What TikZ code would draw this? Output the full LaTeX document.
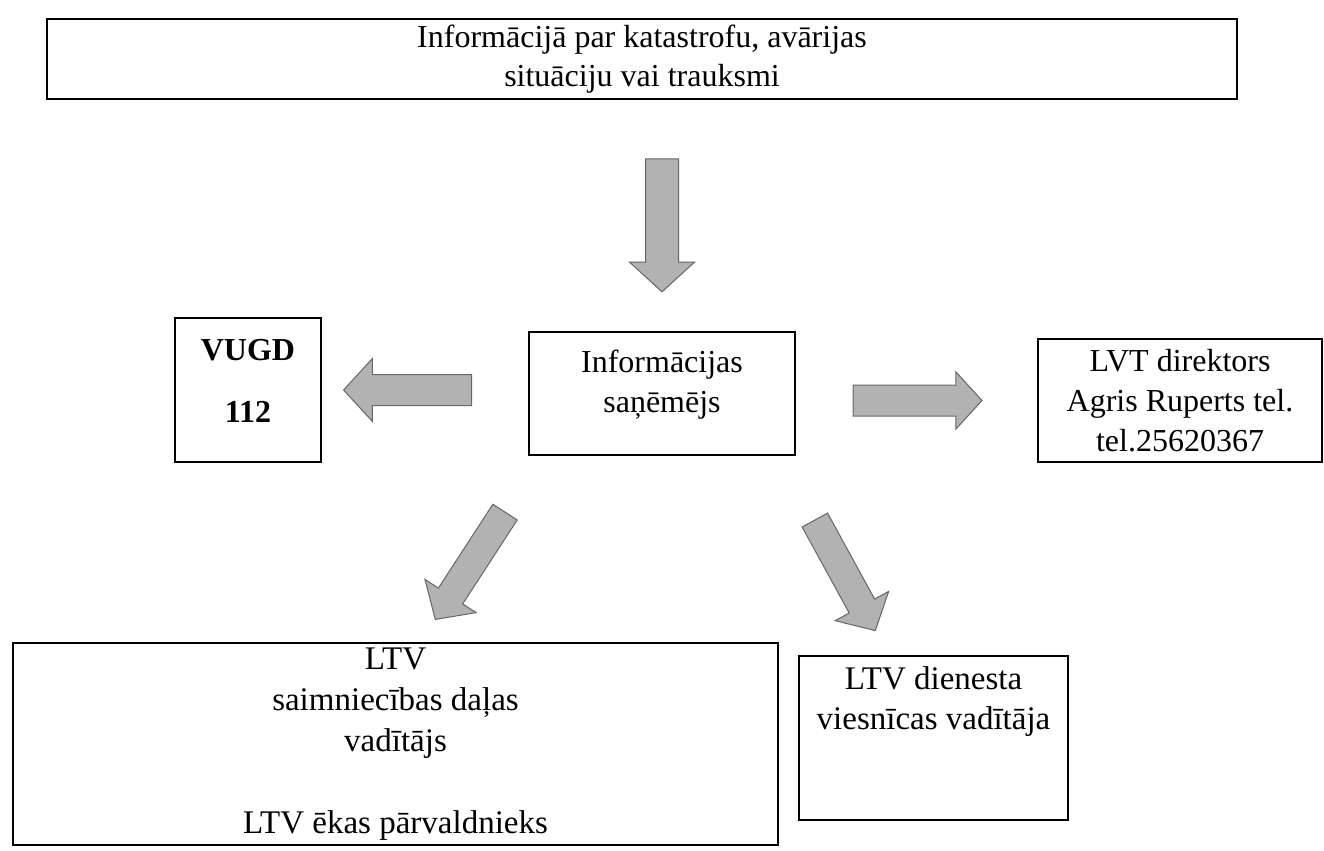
\documentclass[tikz,border=0pt]{standalone}
\usepackage{fontspec}
\setmainfont{Liberation Serif}
\usetikzlibrary{shapes.arrows,calc}

\tikzset{
  box/.style={draw, line width=0.6pt, align=center, inner sep=0pt,
    font=\fontsize{16}{20}\selectfont},
  bigarrow/.style={single arrow, draw=black!60, fill=black!30, line width=0.5pt,
    inner xsep=0pt, inner ysep=7.5pt, single arrow head extend=8pt,
    single arrow tip angle=95, minimum height=#1, sloped, allow upside down},
}

\begin{document}
\begin{tikzpicture}[x=0.5pt, y=-0.5pt]
\useasboundingbox (0,0) rectangle (1324,851);

% boxes
\node[box, minimum width=595pt, minimum height=40pt,
  font=\fontsize{16}{19.5}\selectfont] (alarm) at (642,59)
  {Informācijā par katastrofu, avārijas\\situāciju vai trauksmi};
\node[box, minimum width=133pt, minimum height=61.5pt] (recv) at (662,393.5)
  {Informācijas\\saņēmējs\\[-8pt]\mbox{}};
\node[box, minimum width=73pt, minimum height=72pt,
  font=\bfseries\fontsize{16}{31}\selectfont] (vugd) at (248,390)
  {VUGD\\112\\[-22pt]\mbox{}};
\node[box, minimum width=142pt, minimum height=61.5pt] (director) at (1180,400.5)
  {LVT direktors\\Agris Ruperts tel.\\tel.25620367};
\node[box, minimum width=382.5pt, minimum height=101pt,
  font=\fontsize{16.5}{20.5}\selectfont] (ltv) at (395.5,744)
  {LTV\\saimniecības daļas\\vadītājs\\[20.5pt]LTV ēkas pārvaldnieks};
\node[box, minimum width=134.5pt, minimum height=82pt,
  font=\fontsize{16.5}{20}\selectfont] (hotel) at (933.5,738)
  {LTV dienesta\\viesnīcas vadītāja\\[20pt]\mbox{}};

% arrows
\path (recv.north |- alarm.south) -- (recv.north)
  node[bigarrow=66.5pt, pos=0.51, inner ysep=8pt] (downarrow) {};
\path (vugd.east -| recv.west) -- (vugd.east)
  node[bigarrow=64pt, pos=0.55] (leftarrow) {};
\path (director.west -| recv.east) -- (director.west)
  node[bigarrow=64.5pt, pos=0.475, single arrow head extend=6.5pt] (rightarrow) {};
\path ($(recv.south west)!0.05!(recv.south east)$) -- ($(ltv.north)!0.065!(ltv.north east)$)
  node[bigarrow=64pt, pos=0.56, inner ysep=7pt] (diagleft) {};
\path ($(recv.south east)!0.06!(recv.south west)$) -- ($(hotel.north)!0.33!(hotel.north west)$)
  node[bigarrow=63pt, pos=0.57, inner ysep=7pt] (diagright) {};
\end{tikzpicture}
\end{document}
